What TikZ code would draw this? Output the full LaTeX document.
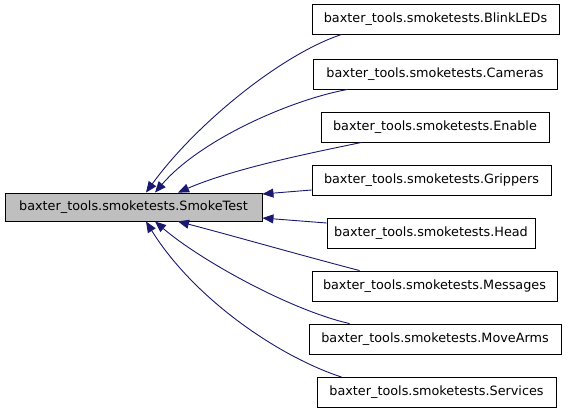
\documentclass[tikz,border=0pt]{standalone}
\usepackage{fontspec}
\setmainfont{DejaVu Sans}
\usetikzlibrary{arrows.meta}
\definecolor{edgecol}{HTML}{191970}
\tikzset{
  x=1pt,y=-1pt,
  cls/.style={draw=black,fill=white,line width=0.9pt,minimum height=30pt,inner xsep=4pt,font=\fontsize{12.8}{14}\selectfont,anchor=center},
  base/.style={cls,fill=black!25},
  inh/.style={draw=edgecol,line width=0.9pt,-{Triangle[length=11pt,width=9pt,fill=edgecol]}}
}
\begin{document}
\begin{tikzpicture}
\useasboundingbox (0,0) rectangle (568,413);
\node[base,minimum width=257pt,minimum height=28pt] (st) at (133.5,207) {baxter\_tools.smoketests.SmokeTest};
\node[cls,minimum width=247pt] (b1) at (435.5,19) {baxter\_tools.smoketests.BlinkLEDs};
\node[cls,minimum width=244pt] (b2) at (435,74) {baxter\_tools.smoketests.Cameras};
\node[cls,minimum width=228pt] (b3) at (435,127) {baxter\_tools.smoketests.Enable};
\node[cls,minimum width=239pt] (b4) at (431.5,180) {baxter\_tools.smoketests.Grippers};
\node[cls,minimum width=208pt] (b5) at (431,233) {baxter\_tools.smoketests.Head};
\node[cls,minimum width=245pt] (b6) at (434.5,286) {baxter\_tools.smoketests.Messages};
\node[cls,minimum width=252pt] (b7) at (435,339) {baxter\_tools.smoketests.MoveArms};
\node[cls,minimum width=239pt] (b8) at (436.5,392.5) {baxter\_tools.smoketests.Services};
\draw[inh] ([xshift=30pt]b1.south west) .. controls (280,55) and (195,125) .. ([xshift=12.5pt]st.north);
\draw[inh] ([xshift=35pt]b2.south west) .. controls (290,100) and (200,140) .. ([xshift=21.5pt]st.north);
\draw[inh] ([xshift=41pt]b3.south west) .. controls (300,155) and (230,170) .. ([xshift=44.5pt]st.north);
\draw[inh] ([yshift=-10pt]b4.west) -- ([yshift=13pt]st.east);
\draw[inh] ([yshift=10pt]b5.west) -- ([yshift=-11pt]st.east);
\draw[inh] ([xshift=48pt]b6.north west) .. controls (300,255) and (230,235) .. ([xshift=44.5pt]st.south);
\draw[inh] ([xshift=41pt]b7.north west) .. controls (290,310) and (200,260) .. ([xshift=21.5pt]st.south);
\draw[inh] ([xshift=25pt]b8.north west) .. controls (280,357) and (195,300) .. ([xshift=12.5pt]st.south);
\end{tikzpicture}
\end{document}
